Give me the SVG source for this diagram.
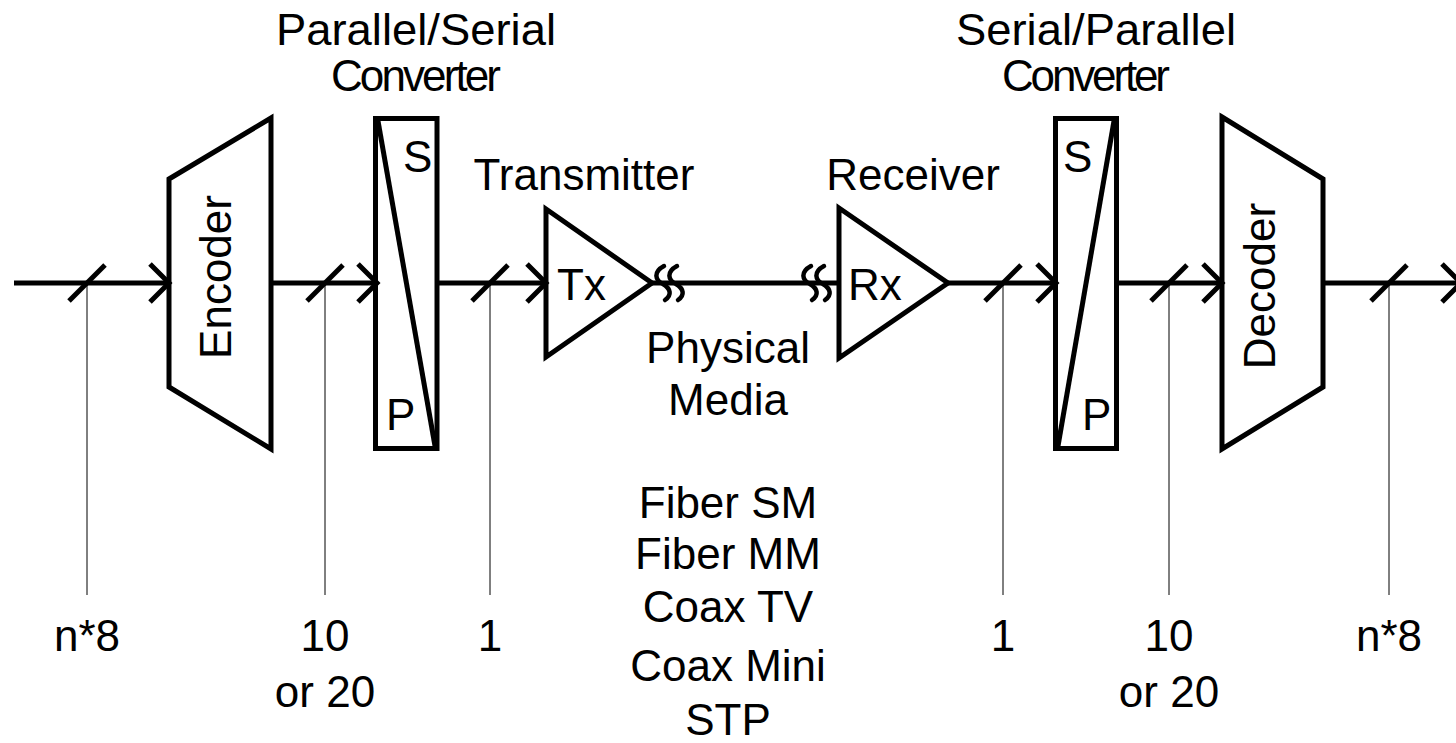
<svg xmlns="http://www.w3.org/2000/svg" width="1456" height="743" viewBox="0 0 1456 743">
<style>
  .shape { fill: none; stroke: #000; stroke-width: 5; stroke-linejoin: miter; }
  .wire { fill: none; stroke: #000; stroke-width: 5; }
  .thin { fill: none; stroke: #000; stroke-width: 1; }
  .sq { fill: none; stroke: #000; stroke-width: 4.5; stroke-linecap: round; }
  text { font-family: "Liberation Sans", Arial, sans-serif; font-size: 44px; fill: #000; }
  .c { text-anchor: middle; }
</style>
<defs>
  <path id="slash" d="M-18,18 L18,-18" class="wire"/>
  <path id="chev" d="M-19,-19 L0,0 L-19,19" class="wire"/>
  <path id="squig" d="M1,-17 C-10,-11 -8,-3 0,1 C8,6 9,12 2,17" class="sq"/>
</defs>
<rect width="1456" height="743" fill="#fff"/>

<g id="connectors">
  <line class="wire" x1="14" y1="283" x2="169" y2="283"/>
  <line class="wire" x1="272" y1="283" x2="376" y2="283"/>
  <line class="wire" x1="437" y1="283" x2="546" y2="283"/>
  <line class="wire" x1="652" y1="283" x2="839" y2="283"/>
  <line class="wire" x1="948" y1="283" x2="1056" y2="283"/>
  <line class="wire" x1="1117" y1="283" x2="1222" y2="283"/>
  <line class="wire" x1="1323" y1="283" x2="1461" y2="283"/>
  <use href="#chev" x="169" y="283"/>
  <use href="#chev" x="377" y="283"/>
  <use href="#chev" x="546" y="283"/>
  <use href="#chev" x="1056" y="283"/>
  <use href="#chev" x="1222" y="283"/>
  <use href="#chev" x="1461" y="283"/>
  <use href="#slash" x="87" y="283"/>
  <use href="#slash" x="325" y="283"/>
  <use href="#slash" x="490" y="283"/>
  <use href="#slash" x="1003" y="283"/>
  <use href="#slash" x="1169" y="283"/>
  <use href="#slash" x="1389" y="283"/>
  <line class="thin" x1="87" y1="283" x2="87" y2="595"/>
  <line class="thin" x1="325" y1="283" x2="325" y2="595"/>
  <line class="thin" x1="490" y1="283" x2="490" y2="595"/>
  <line class="thin" x1="1003" y1="283" x2="1003" y2="595"/>
  <line class="thin" x1="1169" y1="283" x2="1169" y2="595"/>
  <line class="thin" x1="1389" y1="283" x2="1389" y2="595"/>
  <use href="#squig" x="663" y="283"/>
  <use href="#squig" x="676" y="283"/>
  <use href="#squig" x="810" y="283"/>
  <use href="#squig" x="823" y="283"/>
</g>

<g id="encoder">
  <polygon class="shape" points="169,179 271,118 271,449 169,387"/>
  <text class="c" transform="translate(231,277) rotate(-90)">Encoder</text>
</g>

<g id="ps-converter">
  <rect class="shape" x="375.5" y="118.5" width="61.5" height="330"/>
  <line class="shape" x1="378" y1="121" x2="435" y2="446" stroke-width="4"/>
  <text x="403" y="172">S</text>
  <text x="386" y="430">P</text>
  <text class="c" x="416" y="45" textLength="280" lengthAdjust="spacingAndGlyphs">Parallel/Serial</text>
  <text class="c" x="416" y="91" textLength="170" lengthAdjust="spacing">Converter</text>
</g>

<g id="transmitter">
  <polygon class="shape" points="546,209 652,283 546,357"/>
  <text x="557" y="300">Tx</text>
  <text class="c" x="584" y="190">Transmitter</text>
</g>

<g id="physical-media">
  <text class="c" x="728" y="363">Physical</text>
  <text class="c" x="728" y="415">Media</text>
  <text class="c" x="728" y="518">Fiber SM</text>
  <text class="c" x="728" y="569">Fiber MM</text>
  <text class="c" x="728" y="622">Coax TV</text>
  <text class="c" x="728" y="681">Coax Mini</text>
  <text class="c" x="728" y="735">STP</text>
</g>

<g id="receiver">
  <polygon class="shape" points="839,208 948,283 839,358"/>
  <text x="848" y="300">Rx</text>
  <text class="c" x="913" y="190">Receiver</text>
</g>

<g id="sp-converter">
  <rect class="shape" x="1055.5" y="118.5" width="61" height="330"/>
  <line class="shape" x1="1058" y1="446" x2="1114" y2="121" stroke-width="4"/>
  <text x="1063" y="172">S</text>
  <text x="1082" y="430">P</text>
  <text class="c" x="1096" y="45" textLength="280" lengthAdjust="spacingAndGlyphs">Serial/Parallel</text>
  <text class="c" x="1086" y="91" textLength="168" lengthAdjust="spacing">Converter</text>
</g>

<g id="decoder">
  <polygon class="shape" points="1222,117 1323,179 1323,387 1222,449"/>
  <text class="c" transform="translate(1275,286) rotate(-90)">Decoder</text>
</g>

<g id="width-labels">
  <text class="c" x="87" y="651">n*8</text>
  <text class="c" x="325" y="651">10</text>
  <text class="c" x="325" y="707">or 20</text>
  <text class="c" x="490" y="651">1</text>
  <text class="c" x="1003" y="651">1</text>
  <text class="c" x="1169" y="651">10</text>
  <text class="c" x="1169" y="707">or 20</text>
  <text class="c" x="1389" y="651">n*8</text>
</g>
</svg>
